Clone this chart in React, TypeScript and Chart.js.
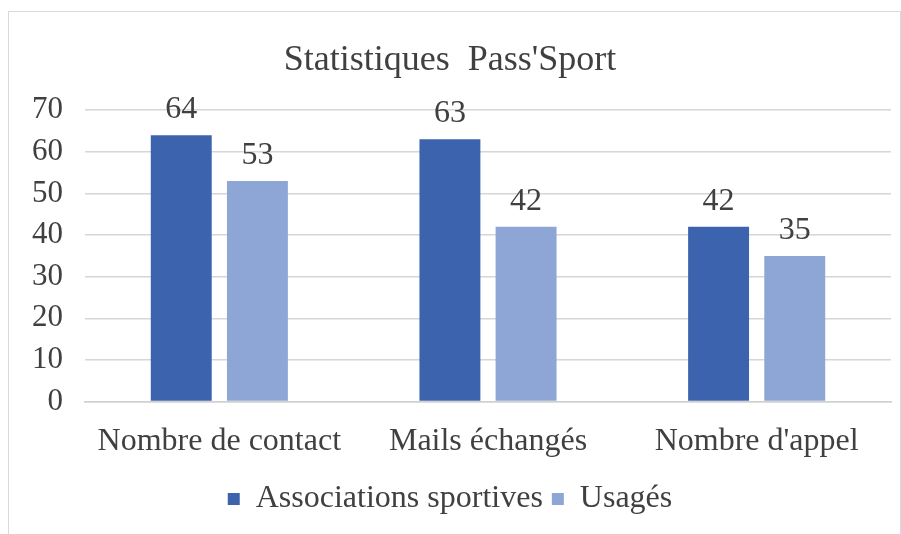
import React, { useEffect, useRef } from "react";
import { Chart, registerables } from "chart.js";

Chart.register(...registerables);

const categories = ["Nombre de contact", "Mails échangés", "Nombre d'appel"];
const associations = [64, 63, 42];
const usages = [53, 42, 35];
const seriesNames = ["Associations sportives", "Usagés"];
const titleText = "Statistiques  Pass'Sport";

const FONT = "'Liberation Serif', 'Times New Roman', serif";
const TEXT = "#404040";

const valueLabels = {
  id: "valueLabels",
  afterDatasetsDraw(chart: any) {
    const ctx = chart.ctx;
    ctx.save();
    ctx.font = `32px ${FONT}`;
    ctx.fillStyle = TEXT;
    ctx.textAlign = "center";
    ctx.textBaseline = "alphabetic";
    chart.data.datasets.forEach((ds: any, i: number) => {
      const meta = chart.getDatasetMeta(i);
      meta.data.forEach((el: any, j: number) => {
        ctx.fillText(String(ds.data[j]), el.x, el.y - 17);
      });
    });
    ctx.restore();
  },
};

export default function App() {
  const ref = useRef<HTMLCanvasElement | null>(null);
  useEffect(() => {
    if (!ref.current) return;
    const chart = new Chart(ref.current, {
      type: "bar",
      data: {
        labels: categories,
        datasets: [
          { label: seriesNames[0], data: associations, backgroundColor: "#3C63AD" },
          { label: seriesNames[1], data: usages, backgroundColor: "#8EA6D6" },
        ],
      },
      options: {
        animation: false,
        responsive: false,
        layout: { padding: { left: 0, right: 9, top: 27, bottom: 15 } },
        datasets: { bar: { categoryPercentage: 0.567, barPercentage: 0.8 } },
        plugins: {
          title: {
            display: true,
            text: titleText,
            color: TEXT,
            font: { family: FONT, size: 36, weight: "normal" },
            padding: { top: 0, bottom: 28 },
          },
          legend: {
            position: "bottom",
            labels: {
              color: TEXT,
              font: { family: FONT, size: 32 },
              boxWidth: 12,
              boxHeight: 12,
              padding: 9,
            },
          },
          tooltip: { enabled: false },
        },
        scales: {
          x: {
            grid: { display: false },
            border: { color: "#d0d0d0", width: 1.5 },
            ticks: { color: TEXT, font: { family: FONT, size: 32 }, padding: 13 },
          },
          y: {
            min: 0,
            max: 70,
            ticks: { stepSize: 10, color: TEXT, font: { family: FONT, size: 31 }, padding: 22 },
            grid: { color: "#d6d6d6", lineWidth: 1.5, drawTicks: false },
            border: { display: false },
            afterFit: (s: any) => {
              s.width = 76;
            },
          },
        },
      },
      plugins: [valueLabels],
    });
    return () => chart.destroy();
  }, []);
  return (
    <div
      style={{
        position: "fixed",
        left: 8,
        top: 11,
        width: 893,
        height: 530,
        boxSizing: "border-box",
        border: "1px solid #d9d9d9",
        background: "#fff",
      }}
    >
      <canvas ref={ref} width={891} height={528} style={{ display: "block" }} />
    </div>
  );
}
